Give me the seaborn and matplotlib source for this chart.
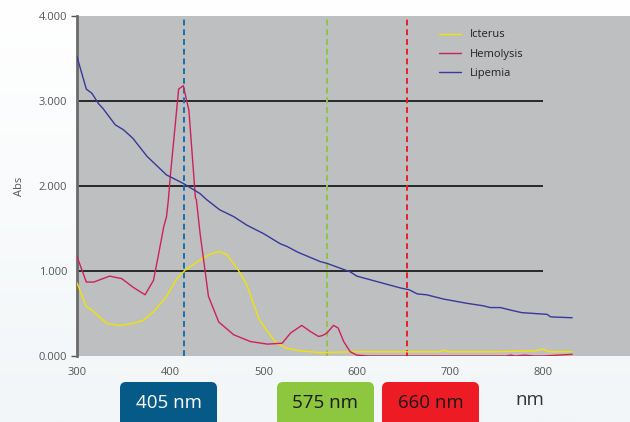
import numpy as np
import pandas as pd
import matplotlib
matplotlib.use("Agg")
import matplotlib.pyplot as plt
import seaborn as sns
from matplotlib.patches import FancyBboxPatch

# Absorbance spectra
lipemia_nm = [300, 310, 316, 323, 328, 341, 350, 360, 375, 396, 414, 432, 439, 453, 468,
              482, 500, 518, 525, 537, 561, 568, 593, 600, 647, 656, 665, 675, 693, 718,
              736, 743, 754, 765, 777, 804, 808, 831]
lipemia_abs = [3.52, 3.14, 3.09, 2.97, 2.91, 2.72, 2.66, 2.56, 2.35, 2.13, 2.03, 1.91, 1.84,
               1.72, 1.64, 1.54, 1.44, 1.32, 1.29, 1.22, 1.11, 1.09, 0.99, 0.94, 0.80, 0.78,
               0.73, 0.72, 0.67, 0.62, 0.59, 0.57, 0.57, 0.54, 0.51, 0.49, 0.46, 0.45]

hemolysis_nm = [300, 310, 318, 335, 348, 360, 373, 382, 387, 393, 396, 398, 400, 409, 414,
                420, 427, 428, 432, 441, 452, 468, 486, 504, 520, 529, 541, 550, 559, 563,
                568, 575, 580, 586, 593, 600, 613, 700, 760, 765, 770, 780, 790, 800, 831]
hemolysis_abs = [1.17, 0.87, 0.87, 0.94, 0.91, 0.81, 0.72, 0.89, 1.17, 1.52, 1.64, 1.84,
                 2.11, 3.14, 3.18, 2.89, 1.86, 1.84, 1.44, 0.70, 0.40, 0.25, 0.17, 0.14,
                 0.15, 0.27, 0.36, 0.29, 0.23, 0.24, 0.27, 0.36, 0.33, 0.17, 0.05, 0.01,
                 0.0, 0.0, 0.0, 0.01, 0.0, 0.01, 0.0, 0.0, 0.02]

icterus_nm = [300, 310, 316, 332, 346, 359, 371, 382, 396, 407, 416, 432, 443, 453, 461,
              473, 482, 495, 504, 514, 525, 539, 561, 600, 650, 690, 694, 698, 750, 790,
              800, 806, 831]
icterus_abs = [0.86, 0.58, 0.54, 0.38, 0.36, 0.38, 0.42, 0.52, 0.70, 0.91, 1.01, 1.13, 1.20,
               1.23, 1.19, 1.01, 0.84, 0.44, 0.29, 0.15, 0.09, 0.06, 0.04, 0.05, 0.05, 0.05,
               0.07, 0.05, 0.05, 0.06, 0.08, 0.05, 0.05]

series_names = ["Icterus", "Hemolysis", "Lipemia"]
series_colors = ["#f0e400", "#cc2257", "#38389a"]

marker_nm = [415, 568, 654]
marker_colors = ["#1a6ea8", "#8dc63f", "#e8202a"]
box_labels = ["405 nm", "575 nm", "660 nm"]
box_colors = ["#065a88", "#8dc63f", "#ed1c24"]
box_text_colors = ["white", "#1a1a1a", "#1a1a1a"]

grid_levels = [1, 2, 3]
y_ticks = [0, 1, 2, 3, 4]
y_tick_labels = ["0.000", "1.000", "2.000", "3.000", "4.000"]
x_ticks = [300, 400, 500, 600, 700, 800]

df = pd.concat([
    pd.DataFrame({"nm": icterus_nm, "abs": icterus_abs, "series": "Icterus"}),
    pd.DataFrame({"nm": hemolysis_nm, "abs": hemolysis_abs, "series": "Hemolysis"}),
    pd.DataFrame({"nm": lipemia_nm, "abs": lipemia_abs, "series": "Lipemia"}),
])

sns.set_style("white")
plt.rcParams["font.family"] = ["Open Sans", "DejaVu Sans"]

fig = plt.figure(figsize=(6.3, 4.22), dpi=100)

# faint background gradient
bg = fig.add_axes([0, 0, 1, 1], zorder=-10)
grad = np.linspace(0, 1, 256).reshape(-1, 1)
bg.imshow(grad, aspect="auto", cmap=matplotlib.colors.LinearSegmentedColormap.from_list(
    "bgfade", ["#ffffff", "#f2f6f8"]), extent=[0, 1, 0, 1], origin="upper")
bg.axis("off")

ax = fig.add_axes([77 / 630, 66 / 422, 553 / 630, 340 / 422])
ax.set_facecolor("#bebfc1")

for lvl in grid_levels:
    ax.hlines(lvl, 300, 800, color="black", linewidth=1.1, zorder=1)

for xv, col in zip(marker_nm, marker_colors):
    ax.axvline(xv, color=col, linewidth=1.4, linestyle=(0, (3, 2)), zorder=2)

sns.lineplot(data=df, x="nm", y="abs", hue="series", hue_order=series_names,
             palette=series_colors, estimator=None, linewidth=1.0, ax=ax, zorder=3)

ax.set_xlim(300, 893)
ax.set_ylim(0, 4)
ax.set_xticks(x_ticks)
ax.set_yticks(y_ticks)
ax.set_yticklabels(y_tick_labels)
ax.tick_params(axis="x", direction="in", length=3, width=1.2, color="#555555",
               labelsize=8, labelcolor="#555555", pad=8)
ax.tick_params(axis="y", direction="out", length=4, width=1, color="#555555",
               labelsize=8, labelcolor="#555555", pad=3, left=True)
# only the end ticks of the y axis show a tick mark
for t in ax.yaxis.get_major_ticks()[1:4]:
    t.tick1line.set_visible(False)
ax.set_xlabel("")
ax.set_ylabel("Abs", fontsize=8, color="#555555", labelpad=10)
for side in ["top", "right", "bottom"]:
    ax.spines[side].set_visible(False)
ax.spines["left"].set_color("#6a6a6a")
ax.spines["left"].set_linewidth(2)

handles, labels = ax.get_legend_handles_labels()
ax.legend(handles, labels, loc="upper left", bbox_to_anchor=(0.637, 0.99),
          frameon=False, fontsize=8, handlelength=2.0, labelspacing=0.75,
          labelcolor="#222222")

# wavelength boxes under the chart (figure pixel space)
ov = fig.add_axes([0, 0, 1, 1], zorder=5)
ov.set_xlim(0, 630)
ov.set_ylim(422, 0)
ov.axis("off")
box_x = [120, 277, 382]
for bx, lab, fc, tc in zip(box_x, box_labels, box_colors, box_text_colors):
    ov.add_patch(FancyBboxPatch((bx + 6, 388), 97 - 12, 40, boxstyle="round,pad=6",
                                facecolor=fc, edgecolor="none"))
    ov.text(bx + 48.5, 403, lab, ha="center", va="center", fontsize=13.5, color=tc)
ov.text(530, 400, "nm", ha="center", va="center", fontsize=13.5, color="#333333")

fig.savefig("out.png", dpi=100)
